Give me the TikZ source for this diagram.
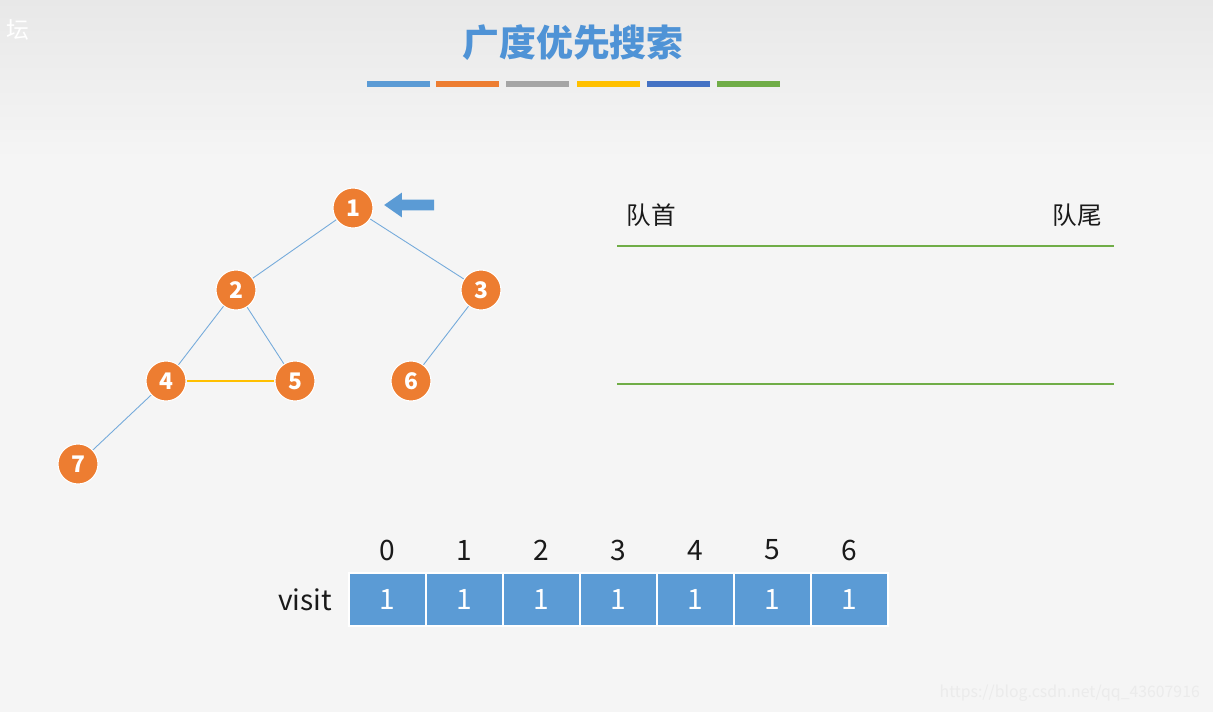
\documentclass[tikz,border=0pt]{standalone}
\usepackage{fontspec}
\setmainfont{Noto Sans CJK SC}
\usepackage{xcolor}
\usepackage{tikz}
\usetikzlibrary{positioning,shapes,arrows.meta}
\definecolor{accent1}{HTML}{5B9BD5}
\definecolor{accent2}{HTML}{ED7D31}
\definecolor{accent3}{HTML}{A5A5A5}
\definecolor{accent4}{HTML}{FFC000}
\definecolor{accent5}{HTML}{4472C4}
\definecolor{accent6}{HTML}{70AD47}
\definecolor{titleblue}{HTML}{4F93D6}
\definecolor{paper}{HTML}{F5F5F5}
\definecolor{ink}{HTML}{1A1A1A}
\tikzset{
    vertex/.style={circle, draw=white, line width=0.6pt, fill=accent2, minimum size=0.8cm, inner sep=0pt, text=white, font=\fontsize{13}{15}\selectfont\bfseries},
    edge/.style={draw=accent1!85, line width=0.5pt},
    colorbar/.style={rectangle, minimum width=1.26cm, minimum height=0.12cm, inner sep=0pt},
    queueline/.style={draw=accent6, line width=1.6pt},
    cell/.style={rectangle, draw=white, line width=0.6pt, fill=accent1, minimum width=1.54cm, minimum height=1.06cm, inner sep=0pt, text=white, font=\fontsize{16}{18}\selectfont},
    index/.style={font=\fontsize{16}{18}\selectfont, text=ink},
    label/.style={font=\fontsize{14}{16}\selectfont, text=ink}
}

\begin{document}
\begin{tikzpicture}[x=0.02cm, y=-0.02cm]
% page and header band
\fill[paper] (0,0) rectangle (1213,712);
\shade[top color=black!9, bottom color=paper] (0,0) rectangle (1213,160);
\useasboundingbox (0,0) rectangle (1213,712);
\node[text=white, font=\fontsize{13}{15}\selectfont, anchor=west] (wmark) at (0,30) {坛};
\node[text=black!8, font=\fontsize{9}{11}\selectfont, anchor=east] (url) at (1206,693) {https://blog.csdn.net/qq\_43607916};

% title
\node[text=titleblue, font=\fontsize{21}{25}\selectfont\bfseries] (title) at (573,43) {广度优先搜索};
\node[colorbar, fill=accent1] (bar1) at (398,84) {};
\node[colorbar, fill=accent2] (bar2) at (467,84) {};
\node[colorbar, fill=accent3] (bar3) at (537,84) {};
\node[colorbar, fill=accent4] (bar4) at (608,84) {};
\node[colorbar, fill=accent5] (bar5) at (678,84) {};
\node[colorbar, fill=accent6] (bar6) at (748,84) {};

% graph
\node[vertex] (v1) at (353,208) {1};
\node[vertex] (v2) at (236,290) {2};
\node[vertex] (v3) at (481,290) {3};
\node[vertex] (v4) at (166,381) {4};
\node[vertex] (v5) at (295,381) {5};
\node[vertex] (v6) at (411,381) {6};
\node[vertex] (v7) at (78,464) {7};
\draw[edge] (v1) -- (v2);
\draw[edge] (v1) -- (v3);
\draw[edge] (v2) -- (v4);
\draw[edge] (v2) -- (v5);
\draw[edge] (v3) -- (v6);
\draw[edge] (v4) -- (v7);
\draw[draw=accent4, line width=0.8pt] (v4) -- (v5);
\node[single arrow, shape border rotate=180, fill=accent1, minimum height=1cm, inner sep=0.1cm, single arrow head extend=0.14cm, single arrow tip angle=70] (pointer) at (413,205) {};

% queue
\coordinate (qtopL) at (617,246);
\coordinate (qtopR) at (1114,246);
\coordinate (qbotL) at (617,384);
\coordinate (qbotR) at (1114,384);
\draw[queueline] (qtopL) -- (qtopR);
\draw[queueline] (qbotL) -- (qbotR);
\node[label] (head) at (651,215) {队首};
\node[label] (tail) at (1077,215) {队尾};

% visit array
\node[label, font=\fontsize{16}{18}\selectfont] (visit) at (305,600) {visit};
\node[cell] (c0) at (387.5,599.5) {1};
\node[cell] (c1) at (464.5,599.5) {1};
\node[cell] (c2) at (541.5,599.5) {1};
\node[cell] (c3) at (618.5,599.5) {1};
\node[cell] (c4) at (695.5,599.5) {1};
\node[cell] (c5) at (772.5,599.5) {1};
\node[cell] (c6) at (849.5,599.5) {1};
\node[index] (i0) at (387.5,550) {0};
\node[index] (i1) at (464.5,550) {1};
\node[index] (i2) at (541.5,550) {2};
\node[index] (i3) at (618.5,550) {3};
\node[index] (i4) at (695.5,550) {4};
\node[index] (i5) at (772.5,550) {5};
\node[index] (i6) at (849.5,550) {6};
\end{tikzpicture}
\end{document}
